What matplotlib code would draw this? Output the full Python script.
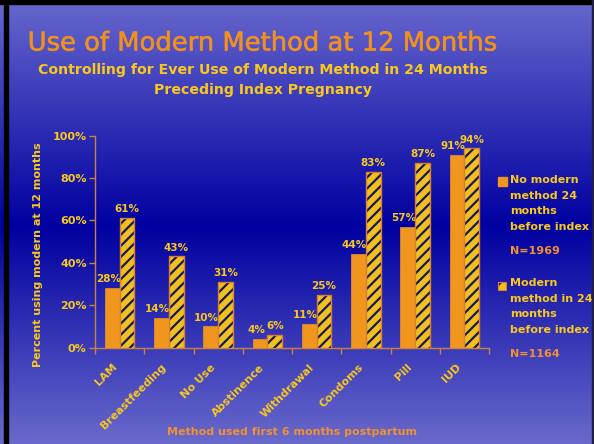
import numpy as np
import matplotlib
matplotlib.use("Agg")
import matplotlib.pyplot as plt
from matplotlib.patches import Rectangle
import matplotlib.patheffects as pe
import matplotlib.transforms as mtransforms

categories = ["LAM", "Breastfeeding", "No Use", "Abstinence", "Withdrawal", "Condoms", "Pill", "IUD"]
no_modern = [28, 14, 10, 4, 11, 44, 57, 91]
modern = [61, 43, 31, 6, 25, 83, 87, 94]
yticks = [0, 20, 40, 60, 80, 100]
ytick_labels = ["0%", "20%", "40%", "60%", "80%", "100%"]
legend_labels = ["No modern\nmethod 24\nmonths\nbefore index", "Modern\nmethod in 24\nmonths\nbefore index"]
legend_n = ["N=1969", "N=1164"]

ORANGE = "#F0961E"
YELLOW = "#F8C81E"
HATCHFACE = "#F0C020"
NAVY = "#181858"
AXC = "#C8843C"
FONT = ["DejaVu Sans"]

plt.rcParams["font.family"] = FONT
plt.rcParams["hatch.linewidth"] = 1.6

fig = plt.figure(figsize=(5.94, 4.44), dpi=100)

# gradient background
bg = fig.add_axes([0, 0, 1, 1], zorder=-10)
H = 444
top = np.array([104, 104, 206]) / 255
mid = np.array([0, 0, 160]) / 255
bot = np.array([106, 106, 204]) / 255
midy = 226
img = np.zeros((H, 2, 3))
for i in range(H):
    if i <= midy:
        t = i / midy
        c = top * (1 - t) + mid * t
    else:
        t = (i - midy) / (H - midy)
        c = mid * (1 - t) + bot * t
    img[i, :, :] = c
bg.imshow(img, aspect="auto", extent=[0, 1, 0, 1], origin="upper")
bg.set_xlim(0, 1); bg.set_ylim(0, 1)
bg.axis("off")

# black borders
fig.patches.append(Rectangle((4 / 594, 0), 3.5 / 594, 1, transform=fig.transFigure, color="black", zorder=5))
fig.patches.append(Rectangle((0, 1 - 4.5 / 444), 1, 4.5 / 444, transform=fig.transFigure, color="black", zorder=5))
fig.patches.append(Rectangle((592 / 594, 0), 2 / 594, 1, transform=fig.transFigure, color="#202040", zorder=5))

ax = fig.add_axes([95 / 594, 1 - 347.5 / 444, 394 / 594, 211.8 / 444])
ax.patch.set_alpha(0)

x = np.arange(len(categories)) + 0.5
w = 0.30
ax.bar(x - w / 2, no_modern, width=w, color=ORANGE, edgecolor=ORANGE, linewidth=0.5, zorder=3)
ax.bar(x + w / 2, modern, width=w, color=HATCHFACE, edgecolor=NAVY, hatch="///", linewidth=0, zorder=3)
ax.bar(x + w / 2, modern, width=w, fill=False, edgecolor="#D8802C", linewidth=1.0, zorder=4)

for xi, v in zip(x, no_modern):
    ax.text(xi - w / 2 - 0.08, v + 1.8, f"{v}%", ha="center", va="bottom", color=YELLOW,
            fontsize=7.5, fontweight="bold")
for xi, v in zip(x, modern):
    ax.text(xi + w / 2, v + 1.8, f"{v}%", ha="center", va="bottom", color=YELLOW,
            fontsize=7.5, fontweight="bold")

ax.set_xlim(0, len(categories))
ax.set_ylim(0, 100)
ax.set_yticks(yticks)
ax.set_yticklabels(ytick_labels)
ax.set_xticks(np.arange(len(categories) + 1))
ax.set_xticklabels([])
ax.set_xticks(x, minor=True)
ax.set_xticklabels(categories, minor=True, rotation=45, ha="right", va="top",
                   rotation_mode="anchor")
ax.tick_params(axis="x", which="minor", length=0, pad=9, labelsize=7.9, labelcolor=YELLOW)
ax.tick_params(axis="x", which="major", length=4, color=AXC, width=1)
ax.tick_params(axis="y", length=4, color=AXC, width=1, labelsize=8, labelcolor=YELLOW, pad=2)
off = mtransforms.ScaledTranslation(-8 / 100, -2 / 100, fig.dpi_scale_trans)
for lab in ax.get_xticklabels(minor=True):
    lab.set_fontweight("bold")
    lab.set_transform(lab.get_transform() + off)
for lab in ax.get_yticklabels():
    lab.set_fontweight("bold")
for s in ["top", "right"]:
    ax.spines[s].set_visible(False)
for s in ["left", "bottom"]:
    ax.spines[s].set_color(AXC)
    ax.spines[s].set_linewidth(1)

fig.text(38 / 594, 1 - 255 / 444, "Percent using modern at 12 months", rotation=90,
         ha="center", va="center", color=YELLOW, fontsize=8, fontweight="bold")
fig.text(292 / 594, 1 - 432 / 444, "Method used first 6 months postpartum",
         ha="center", va="center", color="#F09030", fontsize=8, fontweight="bold")

fig.text(263 / 594, 1 - 43.5 / 444, "Use of Modern Method at 12 Months", ha="center", va="center",
         color="#F0901E", fontsize=18.6,
         path_effects=[pe.withStroke(linewidth=0.4, foreground="#F0901E")])
fig.text(263 / 594, 1 - 70 / 444, "Controlling for Ever Use of Modern Method in 24 Months",
         ha="center", va="center", color=YELLOW, fontsize=10.2, fontweight="bold")
fig.text(263 / 594, 1 - 90 / 444, "Preceding Index Pregnancy",
         ha="center", va="center", color=YELLOW, fontsize=10.2, fontweight="bold")

# legend
fig.patches.append(Rectangle((498 / 594, 1 - 186 / 444), 9 / 594, 9 / 444, transform=fig.transFigure,
                             facecolor=ORANGE, edgecolor=ORANGE, zorder=6))
fig.patches.append(Rectangle((498 / 594, 1 - 290 / 444), 8 / 594, 8 / 444, transform=fig.transFigure,
                             facecolor=HATCHFACE, edgecolor=NAVY, hatch="//", linewidth=0, zorder=6))
fig.patches.append(Rectangle((498 / 594, 1 - 290 / 444), 8 / 594, 8 / 444, transform=fig.transFigure,
                             fill=False, edgecolor="#D8802C", linewidth=0.8, zorder=7))
fig.text(510 / 594, 1 - 175 / 444, legend_labels[0], ha="left", va="top", color=YELLOW,
         fontsize=8, fontweight="bold", linespacing=1.7)
fig.text(510 / 594, 1 - 251 / 444, legend_n[0], ha="left", va="center", color="#F09030",
         fontsize=8, fontweight="bold")
fig.text(510 / 594, 1 - 278 / 444, legend_labels[1], ha="left", va="top", color=YELLOW,
         fontsize=8, fontweight="bold", linespacing=1.7)
fig.text(510 / 594, 1 - 354 / 444, legend_n[1], ha="left", va="center", color="#F09030",
         fontsize=8, fontweight="bold")

fig.savefig("out.png", dpi=100)
